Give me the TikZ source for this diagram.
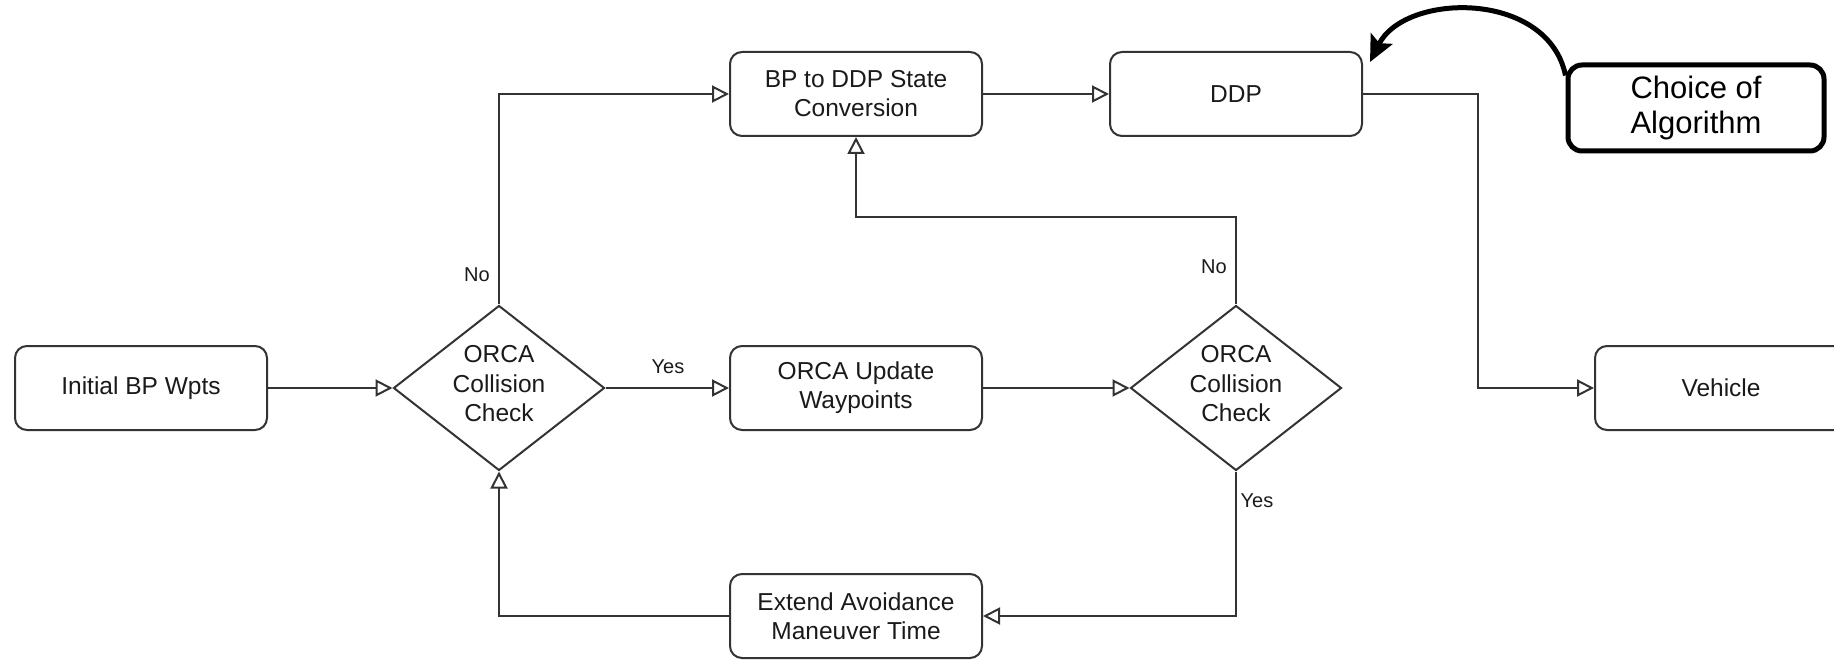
\documentclass[tikz,border=0pt]{standalone}
\usepackage{fontspec}
\setmainfont{Liberation Sans}
\usetikzlibrary{arrows.meta,shapes.geometric}
\definecolor{ln}{HTML}{333333}
\definecolor{tx}{HTML}{1A1A1A}
\begin{document}
\begin{tikzpicture}[x=1pt,y=-1pt,
  box/.style={draw=ln, line width=2pt, rounded corners=12pt, minimum width=252pt, minimum height=84pt, align=center, inner sep=0pt, text=tx, font=\fontsize{24.5}{29}\selectfont},
  dia/.style={draw=ln, line width=2pt, diamond, minimum width=211pt, minimum height=165pt, inner sep=0pt},
  dtext/.style={align=center, inner sep=0pt, text=tx, font=\fontsize{24.5}{29.5}\selectfont},
  conn/.style={draw=ln, line width=2pt, -{Triangle[open, length=17pt, width=17pt, line width=2pt]}},
  lbl/.style={text=tx, inner sep=0pt, font=\fontsize{20}{24}\selectfont},
  choicebox/.style={draw=black, line width=5pt, rounded corners=14pt, minimum width=256pt, minimum height=86pt, align=center, inner sep=0pt, font=\fontsize{31}{35}\selectfont}
]
\useasboundingbox (0,0) rectangle (1834,660);
\clip (0,0) rectangle (1834,660);

\node[box] (init) at (141,388) {Initial BP Wpts};
\node[dia] (d1) at (499,388) {};
\node[dtext] (d1t) at (499,384) {ORCA\\Collision\\Check};
\node[box] (upd) at (856,388) {ORCA Update\\Waypoints};
\node[dia] (d2) at (1236,388) {};
\node[dtext] (d2t) at (1236,384) {ORCA\\Collision\\Check};
\node[box] (veh) at (1721,388) {Vehicle};
\node[box] (bp) at (856,94) {BP to DDP State\\Conversion};
\node[box] (ddp) at (1236,94) {DDP};
\node[box] (ext) at (856,616) {Extend Avoidance\\Maneuver Time};
\node[choicebox] (choice) at (1696,108) {Choice of\\Algorithm};

\draw[conn] (init.east) -- (d1.west);
\draw[conn] (d1.north) |- (bp.west);
\node[lbl] (no1) at (477,275) {No};
\draw[conn] (d1.east) -- (upd.west);
\node[lbl] (yes1) at (668,367) {Yes};
\draw[conn] (upd.east) -- (d2.west);
\draw[conn] (d2.north) -- ++(0,-87) -| (bp.south);
\node[lbl] (no2) at (1214,267) {No};
\draw[conn] (d2.south) |- (ext.east);
\node[lbl] (yes2) at (1257,501) {Yes};
\draw[conn] (ext.west) -| (d1.south);
\draw[conn] (bp.east) -- (ddp.west);
\draw[conn] (ddp.east) -- ++(115,0) |- (veh.west);

\draw[line width=5pt, -{Stealth[length=26pt, width=24pt, inset=5pt]}]
  (choice.166) .. controls (1548,-10) and (1405,-8) .. ([shift={(7,11)}]ddp.north east);
\end{tikzpicture}
\end{document}
